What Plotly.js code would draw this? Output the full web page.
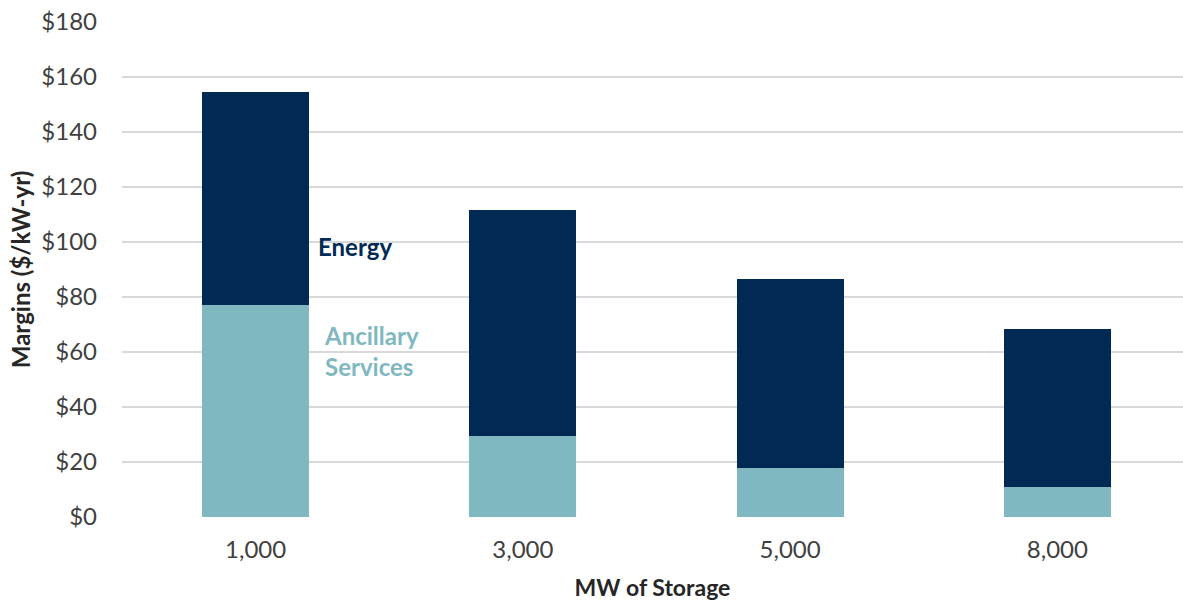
<!DOCTYPE html>
<html>
<head>
<meta charset="utf-8">
<script src="https://cdn.plot.ly/plotly-3.0.1.min.js"></script>
<style>html,body{margin:0;padding:0;background:#fff;}#chart{width:1183px;height:604px;}</style>
</head>
<body>
<div id="chart"></div>
<script>
const categories = ["1,000", "3,000", "5,000", "8,000"];
const ancillary = [77.1, 29.3, 17.7, 10.8];
const energyTotal = [154.7, 111.6, 86.5, 68.2];
const energy = energyTotal.map((t, i) => +(t - ancillary[i]).toFixed(1));
const yTicks = [0, 20, 40, 60, 80, 100, 120, 140, 160, 180];
const yTickText = yTicks.map(v => "$" + v);

const navy = "#002a54";
const teal = "#7fb8c0";
const font = "Lato, 'Open Sans', sans-serif";

const traces = [
  {type: "bar", name: "Ancillary Services", x: categories, y: ancillary,
   marker: {color: teal, line: {width: 0}}, hoverinfo: "y"},
  {type: "bar", name: "Energy", x: categories, y: energy,
   marker: {color: navy, line: {width: 0}}, hoverinfo: "y"}
];

const layout = {
  width: 1183, height: 604,
  barmode: "stack", bargap: 0.6,
  showlegend: false,
  paper_bgcolor: "#fff", plot_bgcolor: "#fff",
  margin: {l: 122, r: 0, t: 22, b: 87},
  font: {family: font, color: "#404040", size: 24},
  xaxis: {
    type: "category", range: [-0.5, 3.47],
    showgrid: false, zeroline: false, showline: false,
    ticks: "", tickfont: {size: 24, color: "#404040"}, ticklabelstandoff: 16,
    title: {text: "<b>MW of Storage</b>", font: {size: 23, color: "#262626"}, standoff: 17}
  },
  yaxis: {
    range: [0, 180], tickvals: yTicks, ticktext: yTickText,
    showgrid: true, gridcolor: "#d9d9d9", gridwidth: 1.5,
    zeroline: false, showline: false, ticks: "",
    tickfont: {size: 24, color: "#404040"}, ticklabelstandoff: 24,
    title: {text: "<b>Margins ($/kW-yr)</b>", font: {size: 24, color: "#262626"}, standoff: 3}
  },
  annotations: [
    {x: 0.226, y: 98.5, xref: "x", yref: "y", text: "<b>Energy</b>", showarrow: false,
     xanchor: "left", yanchor: "middle", font: {size: 24, color: navy, family: font}},
    {x: 0.25, y: 60.4, xref: "x", yref: "y", text: "<b>Ancillary<br>Services</b>", showarrow: false,
     xanchor: "left", yanchor: "middle", align: "left",
     font: {size: 24, color: teal, family: font}}
  ]
};

Plotly.newPlot("chart", traces, layout, {displayModeBar: false, staticPlot: true});
</script>
</body>
</html>
